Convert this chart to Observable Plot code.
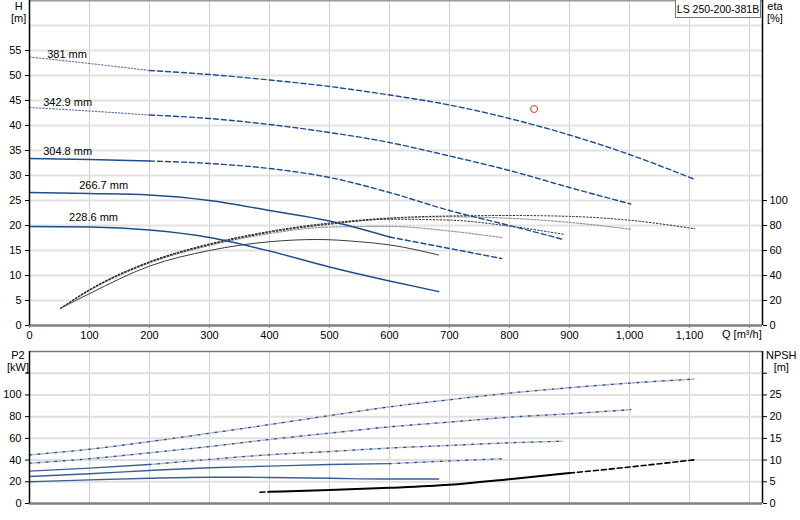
<!DOCTYPE html>
<html><head><meta charset="utf-8">
<script src="https://cdn.jsdelivr.net/npm/d3@7"></script>
<script src="https://cdn.jsdelivr.net/npm/@observablehq/plot@0.6"></script>
<style>
body{margin:0;background:#fff;font-family:"Liberation Sans",Arial,sans-serif;}
#wrap{position:relative;width:800px;height:520px;overflow:hidden;background:#fff}
#wrap svg{display:block}
.lbl{position:absolute;font-size:11px;color:#000;line-height:12px;text-align:center;white-space:nowrap}
#legend{position:absolute;left:675px;top:0;width:86px;height:18px;border:1px solid #777;border-top:none;background:#fff;font-size:10.5px;line-height:18px;text-align:center;box-sizing:border-box}
</style>
</head><body>
<div id="wrap"></div>
<script>
// ---------- data ----------
const diameters = ["381 mm","342.9 mm","304.8 mm","266.7 mm","228.6 mm"];

// head curves H [m] vs Q [m³/h]
const Q381 = [0,100,200,300,400,500,600,700,800,900,1000,1109];
const H381 = [53.7,52.4,51.0,50.2,49.1,47.8,46.1,44.1,41.4,38.1,34.2,29.2];
const Q343 = [0,100,200,300,400,500,600,700,800,900,1002];
const H343 = [43.6,42.9,42.1,41.4,40.2,38.6,36.6,33.9,31.0,27.6,24.3];
const Q305 = [0,100,200,300,400,500,600,700,800,890];
const H305 = [33.4,33.2,32.9,32.4,31.4,29.6,26.6,23.0,20.0,17.2];
const Q267 = [0,100,200,300,400,500,600,700,787];
const H267 = [26.6,26.4,26.1,25.0,23.0,20.9,17.7,15.4,13.4];
const Q229 = [0,100,200,300,400,500,600,682];
const H229 = [19.8,19.7,19.1,17.6,14.9,11.7,8.9,6.8];

// efficiency curves eta [%]
const EQ381 = [52,100,200,300,400,500,600,700,800,900,1000,1109];
const E381  = [13.8,28.7,51,65.3,75.3,82,86,87.6,88,87.3,84.2,77.4];
const EQ343 = [52,100,200,300,400,500,600,700,800,900,1002];
const E343  = [13.8,28.5,50.8,65,75,81.5,85.5,87,85.8,82.5,77];
const EQ305 = [52,100,200,300,400,500,600,700,800,890];
const E305  = [13.8,28.3,50.5,64.5,74.5,81,85,84.3,79.5,73];
const EQ267 = [52,100,200,300,400,500,600,700,787];
const E267  = [13.8,28,50,64,73.5,78.8,79.3,75.6,70.3];
const EQ229 = [52,100,200,300,400,480,550,600,682];
const E229  = [13.8,25.5,47.5,60,67,68.8,67,64.5,56.4];

// power P2 [kW]
const PQ381 = [0,100,200,300,400,500,600,700,800,900,1000,1109];
const P381  = [44.8,50,57,64.7,72.7,81,89,95.6,101.7,106.6,110.9,114.6];
const PQ343 = [0,100,200,300,400,500,600,700,800,900,1002];
const P343  = [37.1,41.2,46.7,52.5,59,64.8,70.6,75,79.5,82.7,86.4];
const PQ305 = [0,100,200,300,400,500,600,700,800,889];
const P305  = [29.8,32.6,35.9,40.6,44.9,47.9,51.1,53.5,55.9,57.4];
const PQ267 = [0,100,200,300,400,500,600,700,787];
const P267  = [24.9,27.4,30.4,32.9,34.4,35.9,36.7,39.2,41.2];
const PQ229 = [0,100,200,300,400,500,600,682];
const P229  = [20,21.8,23.3,24.2,24,23.2,22.5,22.6];

// NPSH [m]
const NQ = [384,400,500,600,700,800,900,1000,1111];
const NPSH = [2.6,2.7,3.1,3.6,4.3,5.6,7.0,8.4,10.1];

// duty point
const dutyQ = [841];
const dutyH = [43.3];

// curve labels
const labelQ = [29.5,22.8,22.8,82.8,66];
const labelH = [54.3,44.6,34.9,28.0,21.6];

// ticks
const qTicks = [0,100,200,300,400,500,600,700,800,900,1000,1100,1200];
const hTicks = [0,5,10,15,20,25,30,35,40,45,50,55];
const hGrid  = [5,10,15,20,25,30,35,40,45,50,55,60];
const etaTicks = [0,20,40,60,80,100];
const pTicks = [0,20,40,60,80,100,120];
const npshTicks = [0,5,10,15,20,25,30];
const productName = "LS 250-200-381B";

// ---------- helpers ----------
const Q_MAX = 1221.7, H_MAX = 65, P_MAX = 140;
const ETA_PER_H = 4, NPSH_PER_P = 0.25;

function segs(name, qs, vs, breakQ, s1, s2, f = v => v) {
  const out = [];
  qs.forEach((q, i) => {
    if (q <= breakQ) out.push({name, q, v: f(vs[i]), style: s1, key: name + s1});
    if (q >= breakQ && s2) out.push({name, q, v: f(vs[i]), style: s2, key: name + s2});
  });
  return out;
}

const hRows = [
  ...segs(diameters[0], Q381, H381, 200, "dot", "dash"),
  ...segs(diameters[1], Q343, H343, 200, "dot", "dash"),
  ...segs(diameters[2], Q305, H305, 200, "solid", "dash"),
  ...segs(diameters[3], Q267, H267, 600, "solid", "dash"),
  ...segs(diameters[4], Q229, H229, Infinity, "solid")
];
const toH = e => e / ETA_PER_H;
const eRows = [
  ...segs(diameters[0], EQ381, E381, Infinity, "dk", null, toH),
  ...segs(diameters[1], EQ343, E343, Infinity, "lt", null, toH),
  ...segs(diameters[2], EQ305, E305, Infinity, "dk", null, toH),
  ...segs(diameters[3], EQ267, E267, Infinity, "lt", null, toH),
  ...segs(diameters[4], EQ229, E229, Infinity, "solid", null, toH)
];
const pRows = [
  ...segs(diameters[0], PQ381, P381, Infinity, "dot"),
  ...segs(diameters[1], PQ343, P343, Infinity, "dot"),
  ...segs(diameters[2], PQ305, P305, 200, "solid", "dot"),
  ...segs(diameters[3], PQ267, P267, 600, "solid", "dot"),
  ...segs(diameters[4], PQ229, P229, Infinity, "solid")
];
const toP = n => n / NPSH_PER_P;
const nRows = [];
NQ.forEach((q, i) => {
  const v = toP(NPSH[i]);
  if (q <= 400) nRows.push({q, v, style: "dash", key: "n1"});
  if (q >= 400 && q <= 900) nRows.push({q, v, style: "solid", key: "n2"});
  if (q >= 900) nRows.push({q, v, style: "dash", key: "n3"});
});

const labels = diameters.map((d, i) => ({d, q: labelQ[i], h: labelH[i]}));

const BLUE = "#1f4d8c";
const fmt = d3.format(",");
const style = {fontFamily: "'Liberation Sans', Arial, sans-serif", fontSize: "11px", color: "#000", background: "#fff", overflow: "visible"};

// ---------- top panel ----------
const topChart = Plot.plot({
  width: 800, height: 346,
  marginLeft: 29, marginRight: 38, marginTop: 0, marginBottom: 21,
  style,
  x: {domain: [0, Q_MAX], label: null},
  y: {domain: [0, H_MAX], label: null},
  marks: [
    Plot.gridX(qTicks.slice(1), {stroke: "#cfcfcf", strokeOpacity: 1, strokeWidth: 1}),
    Plot.gridY(hGrid, {stroke: "#e2e2e2", strokeOpacity: 1, strokeWidth: 2}),
    Plot.ruleY([H_MAX], {stroke: "#9a9a9a", strokeWidth: 2}),
    // efficiency curves
    Plot.line(eRows.filter(r => r.style === "solid"), {x: "q", y: "v", z: "key", curve: "monotone-x", stroke: "#3a3a3a", strokeWidth: 1}),
    Plot.line(eRows.filter(r => r.style === "lt"), {x: "q", y: "v", z: "key", curve: "monotone-x", stroke: "#9a9a9a", strokeWidth: 1.2, strokeDasharray: "2,1.5"}),
    Plot.line(eRows.filter(r => r.style === "dk"), {x: "q", y: "v", z: "key", curve: "monotone-x", stroke: "#222", strokeWidth: 1, strokeDasharray: "1.5,2"}),
    // head curves
    Plot.line(hRows.filter(r => r.style === "solid"), {x: "q", y: "v", z: "key", curve: "monotone-x", stroke: BLUE, strokeWidth: 1.4}),
    Plot.line(hRows.filter(r => r.style === "dash"), {x: "q", y: "v", z: "key", curve: "monotone-x", stroke: BLUE, strokeWidth: 1.4, strokeDasharray: "5,3"}),
    Plot.line(hRows.filter(r => r.style === "dot"), {x: "q", y: "v", z: "key", curve: "monotone-x", stroke: "#5b74a0", strokeWidth: 1.1, strokeDasharray: "1.5,1.8"}),
    Plot.text(labels, {x: "q", y: "h", text: "d", textAnchor: "start", fill: "#000", fontSize: 11}),
    Plot.dot(dutyQ.map((q, i) => ({q, h: dutyH[i]})), {x: "q", y: "h", r: 3.5, stroke: "#e0302a", strokeWidth: 1, fill: "none"}),
    Plot.ruleY([0], {stroke: "#808080", strokeWidth: 2.5}),
    Plot.ruleX([0], {stroke: "#000", strokeWidth: 1.5}),
    Plot.ruleX([Q_MAX], {stroke: "#000", strokeWidth: 1.5}),
    Plot.axisX({ticks: qTicks, tickFormat: d => d === 1200 ? "" : fmt(d), tickSize: 3, tickPadding: 3, stroke: "#808080", label: null}),
    Plot.axisY({ticks: hTicks, tickSize: 4, tickPadding: 4, label: null}),
    Plot.axisY({anchor: "right", ticks: etaTicks.map(e => e / ETA_PER_H), tickFormat: d => d * ETA_PER_H, tickSize: 4, tickPadding: 3, label: null})
  ]
});

// ---------- bottom panel ----------
const bottomChart = Plot.plot({
  width: 800, height: 174,
  marginLeft: 29, marginRight: 38, marginTop: 5, marginBottom: 17,
  style,
  x: {domain: [0, Q_MAX], label: null, axis: null},
  y: {domain: [0, P_MAX], label: null},
  marks: [
    Plot.gridX(qTicks.slice(1), {stroke: "#cfcfcf", strokeOpacity: 1, strokeWidth: 1}),
    Plot.gridY(pTicks.slice(1), {stroke: "#e0e0e0", strokeOpacity: 1, strokeWidth: 2}),
    Plot.ruleY([P_MAX], {stroke: "#777", strokeWidth: 1.5}),
    Plot.line(pRows.filter(r => r.style === "solid"), {x: "q", y: "v", z: "key", curve: "monotone-x", stroke: "#3d5d92", strokeWidth: 1.4}),
    Plot.line(pRows.filter(r => r.style === "dot"), {x: "q", y: "v", z: "key", curve: "monotone-x", stroke: "#b3b8c9", strokeWidth: 1.6, strokeDasharray: "3,1.5"}),
    Plot.line(pRows.filter(r => r.style === "dot"), {x: "q", y: "v", z: "key", curve: "monotone-x", stroke: BLUE, strokeWidth: 1.3, strokeDasharray: "1.5,7"}),
    Plot.line(nRows.filter(r => r.style === "solid"), {x: "q", y: "v", z: "key", curve: "monotone-x", stroke: "#000", strokeWidth: 2}),
    Plot.line(nRows.filter(r => r.style === "dash"), {x: "q", y: "v", z: "key", curve: "monotone-x", stroke: "#000", strokeWidth: 1.6, strokeDasharray: "5,3"}),
    Plot.ruleY([0], {stroke: "#808080", strokeWidth: 2.5}),
    Plot.ruleX([0], {stroke: "#000", strokeWidth: 1.5}),
    Plot.ruleX([Q_MAX], {stroke: "#000", strokeWidth: 1.5}),
    Plot.axisY({ticks: pTicks, tickFormat: d => d === 120 ? "" : d, tickSize: 4, tickPadding: 4, label: null}),
    Plot.axisY({anchor: "right", ticks: npshTicks.map(toP), tickFormat: d => d === 120 ? "" : d * NPSH_PER_P, tickSize: 4, tickPadding: 3, label: null})
  ]
});

const wrap = document.getElementById("wrap");
wrap.appendChild(topChart);
wrap.appendChild(bottomChart);

function lbl(html, x, y) {
  const d = document.createElement("div");
  d.className = "lbl";
  d.innerHTML = html;
  d.style.left = x + "px";
  d.style.top = y + "px";
  wrap.appendChild(d);
}
lbl("H<br>[m]", 11, 0);
lbl("eta<br>[%]", 767, 0);
lbl("Q [m³/h]", 722, 328);
lbl("P2<br>[kW]", 7, 349);
lbl("NPSH<br>[m]", 766, 349);
const lg = document.createElement("div");
lg.id = "legend";
lg.textContent = productName;
wrap.appendChild(lg);
</script>
</body></html>
